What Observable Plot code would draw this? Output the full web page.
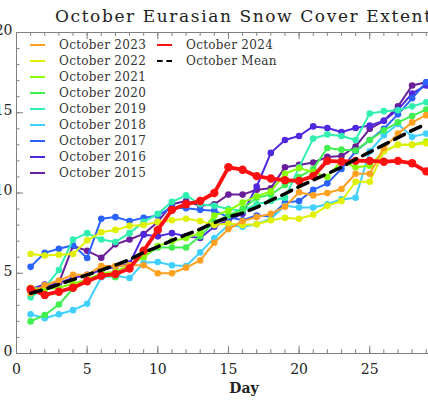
<!DOCTYPE html>
<html>
<head>
<meta charset="utf-8">
<script src="https://cdn.jsdelivr.net/npm/d3@7"></script>
<script src="https://cdn.jsdelivr.net/npm/@observablehq/plot@0.6"></script>
<style>
  body { margin: 0; width: 428px; height: 400px; overflow: hidden; background: #fff; position: relative; }
  #title { position: absolute; left: 55px; top: 6px; font-family: "DejaVu Serif", serif; font-size: 17px; letter-spacing: 1.6px; color: #222; white-space: nowrap; }
  #chart { position: absolute; left: 0; top: 30px; width: 460px; }
  .leg { position: absolute; font-family: "DejaVu Serif", serif; font-size: 12px; letter-spacing: 0.3px; color: #333; white-space: nowrap; }
  .leg .row { position: absolute; height: 16px; line-height: 16px; }
  .leg .sw { position: absolute; top: 7px; width: 15px; height: 2px; }
  .leg .tx { position: absolute; left: 29px; top: 0; }
</style>
</head>
<body>
<div id="title">October Eurasian Snow Cover Extent</div>
<div id="chart"></div>
<div id="legend"></div>
<script>
// ---- data (days 1..29), million km² ----
const days = [1,2,3,4,5,6,7,8,9,10,11,12,13,14,15,16,17,18,19,20,21,22,23,24,25,26,27,28,29];
const xTicks = [0,5,10,15,20,25,30];
const xLabels = [0,5,10,15,20,25];
const yTicks = [0,5,10,15,20];

const y2015 = [3.9,4.1,4.4,6.7,6.4,5.97,6.8,7.1,7.45,8.2,9.3,9.5,9.2,9.3,9.9,9.9,10.2,10.3,11.6,11.75,11.9,12.25,12.3,12.9,14.0,14.5,15.4,16.7,16.9];
const y2016 = [4.0,4.3,4.4,4.7,4.9,5.2,5.4,5.6,7.4,7.3,7.5,7.3,7.2,7.9,8.3,8.7,10.4,12.5,13.3,13.55,14.15,14.05,13.8,14.05,14.2,14.5,15.2,16.2,16.7];
const y2017 = [5.4,6.27,6.53,6.74,5.95,8.4,8.5,8.25,8.45,8.6,9.1,9.05,8.95,8.9,8.5,8.3,8.6,8.55,9.4,9.5,10.2,10.6,11.5,12.6,13.3,14.0,14.9,15.9,16.9];
const y2018 = [2.45,2.2,2.45,2.7,3.1,4.75,4.85,4.7,5.65,5.7,5.5,5.45,6.3,7.2,8.0,7.9,8.05,8.4,9.2,9.1,9.1,9.3,9.6,9.7,12.6,13.6,14.3,13.5,13.7];
const y2019 = [3.5,4.1,5.2,7.1,7.5,7.1,6.95,7.5,8.2,8.7,9.45,9.85,9.3,9.2,9.0,8.9,9.3,9.5,9.7,11.6,13.4,13.65,13.55,13.3,14.95,15.1,15.15,15.4,15.65];
const y2020 = [2.0,2.4,3.05,4.05,4.65,4.9,4.75,5.45,6.05,6.6,6.6,6.6,7.3,8.2,8.6,9.0,9.7,9.9,10.5,11.0,11.5,12.8,12.7,12.65,13.3,13.9,14.4,14.8,15.2];
const y2021 = [4.1,4.0,4.1,4.35,4.6,5.0,5.1,5.5,6.0,6.7,7.0,7.2,7.5,8.6,8.9,9.4,9.8,10.1,11.2,11.55,11.3,11.0,12.0,11.6,11.7,12.6,13.0,13.0,13.2];
const y2022 = [6.2,6.1,6.15,6.2,7.05,7.55,7.7,7.95,8.0,8.2,8.3,8.4,8.25,8.0,8.1,8.0,8.05,8.3,8.45,8.4,8.65,9.2,9.5,10.7,10.7,12.6,13.0,13.0,13.1];
const y2023 = [3.75,4.25,4.55,4.9,4.9,5.45,5.45,5.5,5.5,5.0,5.0,5.35,5.8,6.9,7.75,8.25,8.5,8.7,9.15,10.05,9.85,10.0,10.25,11.2,11.2,12.8,13.7,14.4,14.85];
const y2024 = [4.0,3.65,3.85,4.1,4.5,4.85,4.95,5.3,6.4,7.7,8.95,9.3,9.5,10.0,11.6,11.45,11.05,10.9,10.8,10.75,11.05,12.0,11.95,12.0,12.0,11.95,12.0,11.85,11.35];
const yMean = [3.75,4.0,4.3,4.6,4.9,5.2,5.5,5.85,6.3,6.65,7.05,7.4,7.75,8.15,8.5,8.75,9.1,9.55,9.95,10.4,10.8,11.2,11.6,12.1,12.55,13.0,13.45,13.9,14.3];

const seriesNames = ["October 2023","October 2022","October 2021","October 2020","October 2019","October 2018","October 2017","October 2016","October 2015"];
const seriesColors = ["#ffa020","#e0f000","#88ff00","#40f050","#30f0b0","#40d0ff","#2a62ff","#5028e0","#6a1f9a"];
const seriesValues = [y2023,y2022,y2021,y2020,y2019,y2018,y2017,y2016,y2015];
const name2024 = "October 2024", color2024 = "#ff1010";
const nameMean = "October Mean";

const toRows = (vals) => vals.map((v, i) => ({day: days[i], value: v}));

const marks = [];
const minorX = d3.range(0, 32);
const minorY = d3.range(0, 21);
const axisColor = "#808080";
marks.push(Plot.frame({stroke: axisColor, strokeWidth: 1}));
marks.push(Plot.ruleX(minorX, {x: d => d, y1: 0, y2: 0.24, stroke: axisColor}));
marks.push(Plot.ruleX(minorX, {x: d => d, y1: 20, y2: 19.76, stroke: axisColor}));
marks.push(Plot.ruleX(xTicks, {x: d => d, y1: 0, y2: 0.45, stroke: axisColor}));
marks.push(Plot.ruleX(xTicks, {x: d => d, y1: 20, y2: 19.55, stroke: axisColor}));
marks.push(Plot.ruleY(minorY, {y: d => d, x1: 0, x2: 0.25, stroke: axisColor}));
marks.push(Plot.ruleY(yTicks, {y: d => d, x1: 0, x2: 0.5, stroke: axisColor}));
marks.push(Plot.text(xLabels, {x: d => d, y: 0, dy: 16, text: d => String(d), fontSize: 14, fontFamily: "DejaVu Serif", fill: "#222"}));
marks.push(Plot.text(yTicks, {x: 0, y: d => d, dx: -4, dy: -2, text: d => String(d), textAnchor: "end", fontSize: 14, fontFamily: "DejaVu Serif", fill: "#222"}));
marks.push(Plot.text(["Day"], {x: 16.1, y: 0, dy: 35, text: d => d, fontSize: 14, fontWeight: "bold", fontFamily: "DejaVu Serif", fill: "#222"}));

for (let k = seriesValues.length - 1; k >= 0; k--) {
  const rows = toRows(seriesValues[k]);
  marks.push(Plot.line(rows, {x: "day", y: "value", stroke: seriesColors[k], strokeWidth: 2}));
  marks.push(Plot.dot(rows, {x: "day", y: "value", fill: seriesColors[k], r: 3.3}));
}
const rows24 = toRows(y2024);
marks.push(Plot.line(rows24, {x: "day", y: "value", stroke: color2024, strokeWidth: 3.8}));
marks.push(Plot.dot(rows24, {x: "day", y: "value", fill: color2024, r: 4.2}));
marks.push(Plot.line(toRows(yMean), {x: "day", y: "value", stroke: "#000", strokeWidth: 3.5, strokeDasharray: "11,7"}));

const chart = Plot.plot({
  width: 460, height: 370,
  marginLeft: 16, marginRight: 6, marginTop: 2, marginBottom: 47,
  x: {domain: [0, 31], axis: null},
  y: {domain: [0, 20], axis: null},
  style: {overflow: "visible", maxWidth: "none", background: "transparent"},
  marks
});
document.getElementById("chart").appendChild(chart);

const leg = document.getElementById("legend");
leg.className = "leg";
leg.style.left = "0px"; leg.style.top = "0px";
function addRow(x, y, label, color, dashed) {
  const r = document.createElement("div");
  r.className = "row";
  r.style.left = x + "px"; r.style.top = (y - 8) + "px";
  const sw = document.createElement("div");
  sw.className = "sw";
  if (dashed) {
    sw.style.background = "none";
    sw.style.borderTop = "2px dashed #000";
    sw.style.height = "0px";
    sw.style.top = "7px";
  } else {
    sw.style.background = color;
  }
  const tx = document.createElement("div");
  tx.className = "tx";
  tx.textContent = label;
  r.appendChild(sw); r.appendChild(tx);
  leg.appendChild(r);
}
seriesNames.forEach((n, i) => addRow(30, 45 + 16 * i, n, seriesColors[i], false));
addRow(157, 45, name2024, color2024, false);
addRow(157, 61, nameMean, "#000", true);
</script>
</body>
</html>
